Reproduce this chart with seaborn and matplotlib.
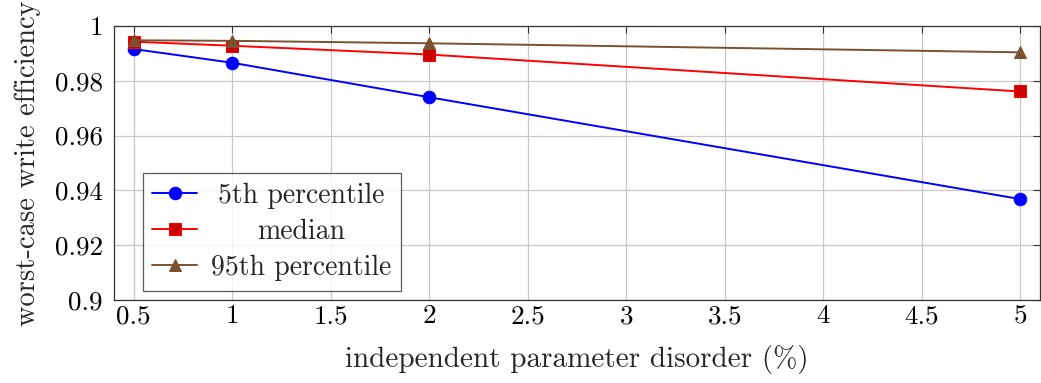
import pandas as pd
import matplotlib.pyplot as plt
import seaborn as sns
from matplotlib.offsetbox import TextArea
from matplotlib.transforms import Bbox

# Data
disorder = [0.5, 1, 2, 5]
p5 = [0.9916, 0.9866, 0.9740, 0.9368]
median = [0.9943, 0.9928, 0.9896, 0.9761]
p95 = [0.9948, 0.9946, 0.9937, 0.9904]

series_names = ['5th percentile', 'median', '95th percentile']
line_colors = ['#0000ff', '#ff0000', '#7a5230']
face_colors = ['#0000ff', '#cc0000', '#7a5230']
markers = ['o', 's', '^']
marker_sizes = [9, 8.7, 8.5]

df = pd.DataFrame({
    'x': disorder * 3,
    'y': p5 + median + p95,
    'series': [s for s in series_names for _ in disorder],
})

sns.set_style('white')
plt.rcParams['font.family'] = ['cmr10', 'DejaVu Serif']
plt.rcParams['mathtext.fontset'] = 'cm'
plt.rcParams['axes.formatter.use_mathtext'] = True

fig = plt.figure(figsize=(10.41, 3.83), dpi=100)
ax = fig.add_axes([0.1095, 0.217, 0.8895, 0.715])

for name, lc, fc, m, ms in zip(series_names, line_colors, face_colors, markers, marker_sizes):
    sns.lineplot(data=df[df.series == name], x='x', y='y', ax=ax,
                 color=lc, marker=m, markersize=ms, markerfacecolor=fc,
                 markeredgecolor=lc, linewidth=1.4, label=name)

ax.set_xlim(0.4, 5.1)
ax.set_ylim(0.9, 1.0)
ax.set_xticks([0.5, 1, 1.5, 2, 2.5, 3, 3.5, 4, 4.5, 5])
ax.set_xticklabels(['0.5', '1', '1.5', '2', '2.5', '3', '3.5', '4', '4.5', '5'])
ax.set_yticks([0.9, 0.92, 0.94, 0.96, 0.98, 1.0])
ax.set_yticklabels(['0.9', '0.92', '0.94', '0.96', '0.98', '1'])
ax.grid(True, color='#c8c8c8', linewidth=0.9)
ax.tick_params(direction='in', top=True, right=True, length=5, width=0.8,
               labelsize=19.5, colors='#333333', labelcolor='black')
ax.tick_params(axis='y', pad=8)
for sp in ax.spines.values():
    sp.set_color('#333333')
    sp.set_linewidth(0.9)

ax.set_xlabel('independent parameter disorder (%)', fontsize=21, labelpad=12)
ax.set_ylabel('worst-case write efficiency', fontsize=20.5, labelpad=10)

leg = ax.legend(loc='lower left', bbox_to_anchor=(0.031, 0.033), fontsize=20,
                frameon=True, fancybox=False, edgecolor='#333333',
                handlelength=1.6, handletextpad=0.5, borderpad=0.35,
                labelspacing=0.35, borderaxespad=0)
leg.get_frame().set_linewidth(0.9)

# centre the legend labels like pgfplots does
fig.canvas.draw()
r = fig.canvas.get_renderer()
wmax = max(t.get_window_extent(r).width for t in leg.get_texts())
for a in leg.findobj(TextArea):
    if a.get_text() not in series_names:
        continue
    a._text.set_ha('center')
    orig = a.get_bbox

    def gb(renderer, orig=orig):
        b = orig(renderer)
        return Bbox.from_bounds(-wmax / 2, b.y0, wmax, b.height)
    a.get_bbox = gb

fig.savefig('out.png', dpi=100)
